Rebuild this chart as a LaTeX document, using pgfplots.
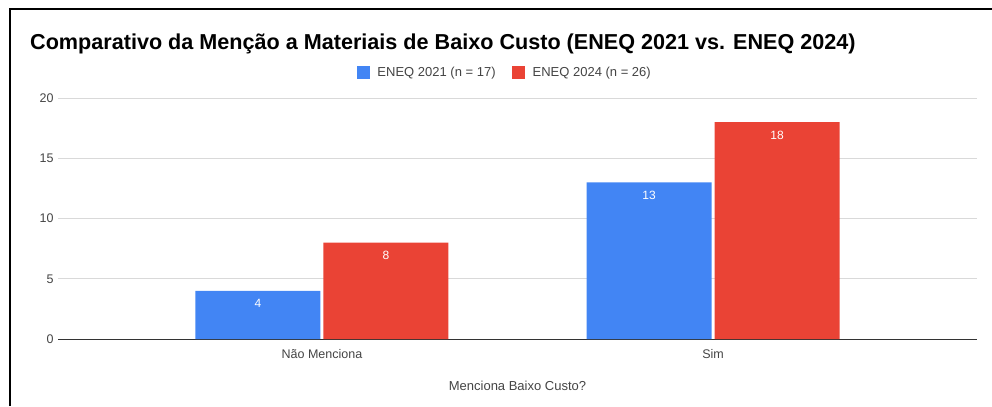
\documentclass[border=0pt]{standalone}
\usepackage{pgfplots}
\pgfplotsset{compat=1.18}
\usepackage{fontspec}
\setmainfont{Liberation Sans}
\definecolor{gblue}{HTML}{4285F4}
\definecolor{gred}{HTML}{EA4335}
\definecolor{ggrid}{HTML}{D9D9D9}
\definecolor{gtext}{HTML}{444444}
\definecolor{gaxis}{HTML}{333333}
\begin{document}
\begin{tikzpicture}[x=1bp,y=1bp]
\path[use as bounding box] (0,0) rectangle (992,-406);
\draw[line width=2bp] (10,-406) -- (10,-9) -- (992,-9);
\node[anchor=base west, inner sep=0pt, font=\fontsize{21.6bp}{24bp}\selectfont\bfseries] at (30,-49) {Comparativo da Menção a Materiais de Baixo Custo (ENEQ 2021 vs. ENEQ 2024)};
\begin{axis}[
  at={(58bp,-339bp)}, anchor=south west,
  scale only axis, width=919bp, height=241bp,
  ybar=3bp, bar width=125bp,
  xmin=-0.675, xmax=1.675, ymin=0, ymax=20,
  xtick={0,1}, xticklabels={Não Menciona, Sim},
  ytick={0,5,10,15,20},
  major tick length=0pt,
  axis x line*=bottom, axis y line*=left,
  y axis line style={draw=none},
  x axis line style={draw=gaxis, line width=1bp},
  ymajorgrids, grid style={ggrid, line width=1bp},
  /pgf/number format/assume math mode=true,
  tick label style={font=\fontsize{12.5bp}{14bp}\selectfont, text=gtext},
  yticklabel style={xshift=-1bp},
  xticklabel style={yshift=-7bp},
  xlabel={Menciona Baixo Custo?},
  xlabel style={font=\fontsize{13bp}{15bp}\selectfont, text=gtext, yshift=-16bp},
  nodes near coords,
  every node near coord/.append style={anchor=north, text=white, font=\fontsize{12bp}{14bp}\selectfont, yshift=-5bp},
  legend columns=2,
  legend style={draw=none, at={(0.486,1.104)}, anchor=center, font=\fontsize{13bp}{15bp}\selectfont, text=gtext, /tikz/every even column/.append style={column sep=14bp}},
  legend image code/.code={\fill[#1] (0bp,-6.5bp) rectangle (13bp,6.5bp); \path (19bp,0bp);},
]
\addplot[fill=gblue, draw=none] coordinates {(0,4) (1,13)};
\addplot[fill=gred, draw=none] coordinates {(0,8) (1,18)};
\legend{ENEQ 2021 (n = 17), ENEQ 2024 (n = 26)}
\end{axis}
\end{tikzpicture}
\end{document}
